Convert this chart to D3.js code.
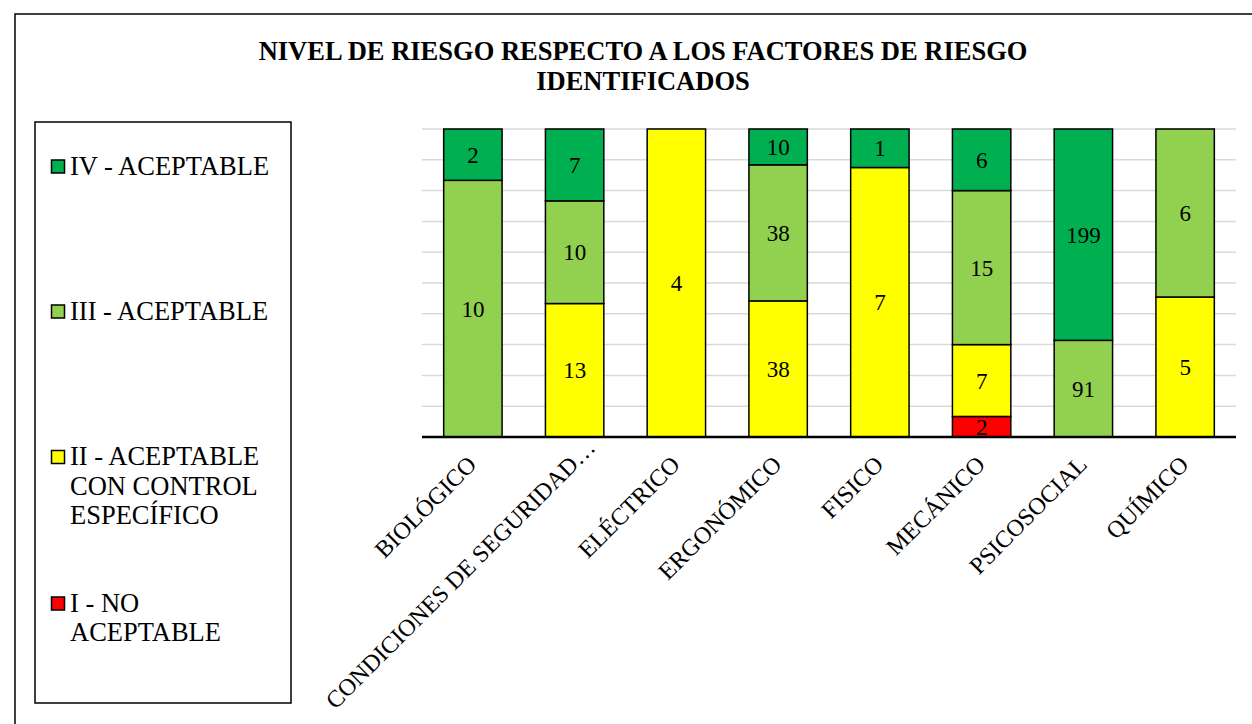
<!DOCTYPE html>
<html><head><meta charset="utf-8">
<script src="https://cdn.jsdelivr.net/npm/d3@7"></script>
<style>html,body{margin:0;padding:0;background:#fff;} svg{display:block;}</style>
</head><body>
<script>
const categories = ["BIOLÓGICO","CONDICIONES DE SEGURIDAD…","ELÉCTRICO","ERGONÓMICO","FISICO","MECÁNICO","PSICOSOCIAL","QUÍMICO"];
const seriesNames = ["I - NO ACEPTABLE","II - ACEPTABLE CON CONTROL ESPECÍFICO","III - ACEPTABLE","IV - ACEPTABLE"];
const nivelI   = [0, 0, 0, 0, 0, 2, 0, 0];
const nivelII  = [0, 13, 4, 38, 7, 7, 0, 5];
const nivelIII = [10, 10, 0, 38, 0, 15, 91, 6];
const nivelIV  = [2, 7, 0, 10, 1, 6, 199, 0];
const colors = ["#FF0000","#FFFF00","#92D050","#00B050"];
const yTicks = [0,0.1,0.2,0.3,0.4,0.5,0.6,0.7,0.8,0.9,1];
const legendLines = [["IV - ACEPTABLE"],["III - ACEPTABLE"],["II - ACEPTABLE","CON CONTROL","ESPECÍFICO"],["I - NO","ACEPTABLE"]];
const legendColors = ["#00B050","#92D050","#FFFF00","#FF0000"];

const FONT="Liberation Serif";
const W=1252,H=724;
const svg=d3.select("body").append("svg").attr("width",W).attr("height",H).attr("font-family",FONT);
svg.append("rect").attr("x",15).attr("y",14).attr("width",1260).attr("height",740).attr("fill","#fff").attr("stroke","#000").attr("stroke-width",1.5);

svg.append("text").attr("x",643).attr("y",60).attr("text-anchor","middle").attr("font-weight","bold").attr("font-size",26.5).attr("font-family",FONT).text("NIVEL DE RIESGO RESPECTO A LOS FACTORES DE RIESGO");
svg.append("text").attr("x",643).attr("y",90).attr("text-anchor","middle").attr("font-weight","bold").attr("font-size",26.5).attr("font-family",FONT).text("IDENTIFICADOS");

const rows = categories.map((c,i)=>({cat:c, v:[nivelI[i],nivelII[i],nivelIII[i],nivelIV[i]]}));
const x=d3.scaleBand().domain(categories).range([422,1236]).paddingInner(0.426).paddingOuter(0.213);
const y=d3.scaleLinear().domain([0,1]).range([437,129]);

const g=svg.append("g");
g.selectAll("line.grid").data(yTicks.slice(1)).join("line").attr("class","grid")
 .attr("x1",422).attr("x2",1236).attr("y1",d=>y(d)).attr("y2",d=>y(d)).attr("stroke","#d9d9d9").attr("stroke-width",1.5);

const segs=[];
rows.forEach(r=>{
  const tot=d3.sum(r.v); let acc=0;
  r.v.forEach((v,k)=>{ if(v>0){ segs.push({cat:r.cat,k,v,y0:acc/tot,y1:(acc+v)/tot}); } acc+=v; });
});
g.selectAll("rect.seg").data(segs).join("rect").attr("class","seg")
 .attr("x",d=>x(d.cat)).attr("width",x.bandwidth())
 .attr("y",d=>y(d.y1)).attr("height",d=>y(d.y0)-y(d.y1))
 .attr("fill",d=>colors[d.k]).attr("stroke","#000").attr("stroke-width",1.5);
g.selectAll("text.lab").data(segs).join("text").attr("class","lab")
 .attr("x",d=>x(d.cat)+x.bandwidth()/2).attr("y",d=>(y(d.y0)+y(d.y1))/2)
 .attr("text-anchor","middle").attr("dy","0.35em").attr("font-size",23).attr("fill","#000").attr("font-family",FONT).text(d=>d.v);

const xAxis=svg.append("g").attr("transform","translate(0,437)").call(d3.axisBottom(x).tickSize(0).tickFormat(""));
xAxis.select(".domain").attr("stroke","#000").attr("stroke-width",2.5).attr("d","M422,0H1236");

svg.selectAll("text.xl").data(categories).join("text").attr("class","xl")
 .attr("transform",d=>{
   const s = d.endsWith("…") ? 17 : 0;
   return `translate(${x(d)+x.bandwidth()/2+5+s},${466-s}) rotate(-45)`;
 })
 .attr("text-anchor","end").attr("font-size",24).attr("font-family",FONT).text(d=>d);

svg.append("rect").attr("x",35).attr("y",122).attr("width",256).attr("height",581).attr("fill","none").attr("stroke","#000").attr("stroke-width",1.5);
const lgBase=[174.5,319.5,465,611.5];
legendLines.forEach((lines,i)=>{
  svg.append("rect").attr("x",51.5).attr("y",lgBase[i]-14.5).attr("width",13).attr("height",13).attr("fill",legendColors[i]).attr("stroke","#000").attr("stroke-width",1.5);
  const t=svg.append("text").attr("x",70).attr("y",lgBase[i]).attr("font-size",26.5).attr("font-family",FONT);
  lines.forEach((l,j)=>t.append("tspan").attr("x",70).attr("y",lgBase[i]+j*29.5).text(l));
});
</script>
</body></html>
